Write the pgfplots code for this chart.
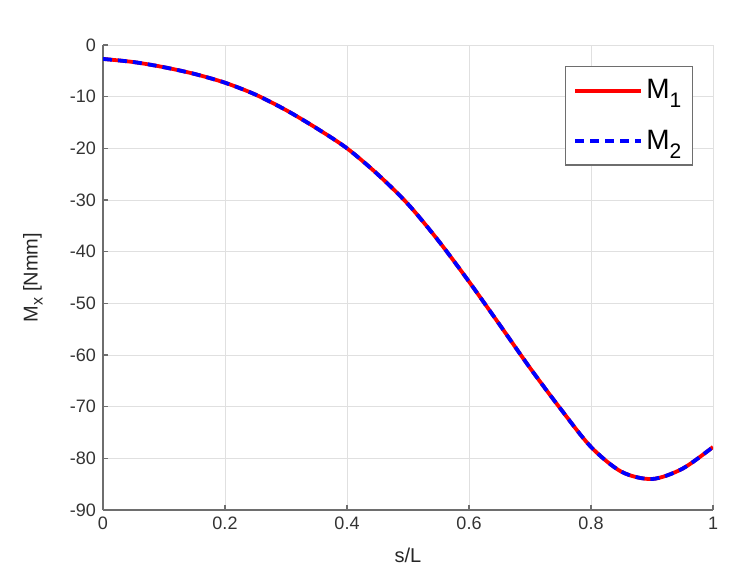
\documentclass[border=0pt]{standalone}
\usepackage{fontspec}
\setmainfont{Liberation Sans}
\usepackage{pgfplots}
\pgfplotsset{compat=1.18}
\definecolor{axgray}{RGB}{110,110,110}
\newcommand{\lsub}[1]{\raisebox{-4.5pt}{\fontsize{10.5}{12}\selectfont #1}}
\begin{document}
\begin{tikzpicture}
\begin{axis}[
  scale only axis, width=305pt, height=232.5pt,
  xmin=0, xmax=1, ymin=-90, ymax=0,
  axis lines=left,
  axis line style={-, draw=axgray, line width=0.7pt},
  xtick={0,0.2,0.4,0.6,0.8,1},
  xticklabels={0,0.2,0.4,0.6,0.8,1},
  ytick={-90,-80,-70,-60,-50,-40,-30,-20,-10,0},
  yticklabels={-90,-80,-70,-60,-50,-40,-30,-20,-10,0},
  tick align=inside, major tick length=2.5pt,
  tick style={draw=axgray, line width=0.6pt},
  grid=major, major grid style={draw=black!12, line width=0.4pt},
  ticklabel style={font=\fontsize{9}{10}\selectfont, text=black!80},
  xlabel={s/L}, ylabel={M\raisebox{-2.5pt}{\fontsize{8}{9}\selectfont x} [Nmm]},
  label style={font=\fontsize{10}{12}\selectfont, text=black!85},
  xlabel style={at={(axis description cs:0.5,-0.0968)}, anchor=center},
  ylabel style={at={(axis description cs:-0.1148,0.5)}, anchor=center},
  legend style={at={(axis description cs:0.967,0.955)}, anchor=north east,
    draw=axgray, line width=0.6pt, font=\fontsize{14}{16}\selectfont,
    inner xsep=4pt, inner ysep=5pt, row sep=11pt,
    nodes={inner sep=1.5pt}},
  legend cell align=left,
  legend image code/.code={\draw[#1] (0pt,0pt) -- (33pt,0pt);},
]
\coordinate (sw) at (rel axis cs:0,0);
\coordinate (ne) at (rel axis cs:1,1);
\addplot[red, line width=1.9pt, smooth] coordinates {
(0,-2.7) (0.05,-3.3) (0.1,-4.3) (0.15,-5.6) (0.2,-7.3) (0.25,-9.6)
(0.3,-12.6) (0.35,-16.1) (0.4,-20.0) (0.45,-25.0) (0.5,-30.8)
(0.55,-37.9) (0.6,-45.8) (0.65,-54.1) (0.7,-62.5) (0.75,-70.4)
(0.8,-77.8) (0.85,-82.6) (0.9,-84.0) (0.95,-82.0) (1,-77.8)
};
\addlegendentry{M\lsub{1}}
\addplot[blue, line width=1.9pt, smooth, dash pattern=on 4.5pt off 3pt] coordinates {
(0,-2.7) (0.05,-3.3) (0.1,-4.3) (0.15,-5.6) (0.2,-7.3) (0.25,-9.6)
(0.3,-12.6) (0.35,-16.1) (0.4,-20.0) (0.45,-25.0) (0.5,-30.8)
(0.55,-37.9) (0.6,-45.8) (0.65,-54.1) (0.7,-62.5) (0.75,-70.4)
(0.8,-77.8) (0.85,-82.6) (0.9,-84.0) (0.95,-82.0) (1,-77.8)
};
\addlegendentry{M\lsub{2}}
\end{axis}
\pgfresetboundingbox
\path[use as bounding box] ([xshift=-51.5pt,yshift=-37pt]sw) rectangle ([xshift=11.5pt,yshift=22.5pt]ne);
\end{tikzpicture}
\end{document}
